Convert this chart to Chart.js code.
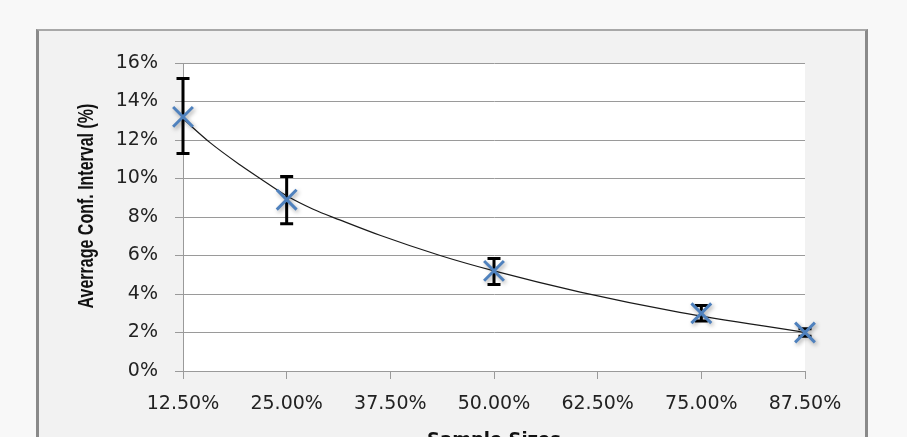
<!DOCTYPE html>
<html>
<head>
<meta charset="utf-8">
<script src="https://cdn.jsdelivr.net/npm/chart.js@4.4.1/dist/chart.umd.min.js"></script>
<style>
  html, body { margin: 0; padding: 0; width: 907px; height: 437px; overflow: hidden; background: #f8f8f8; }
  #frame {
    position: absolute; left: 36px; top: 29px; width: 826px; height: 440px;
    background: #f2f2f2;
    border-left: 3px solid #8a8a8a; border-right: 3px solid #8a8a8a; border-top: 2px solid #a8a8a8;
  }
  #c { position: absolute; left: 0; top: 0; }
</style>
</head>
<body>
<div id="frame"></div>
<canvas id="c" width="907" height="460"></canvas>
<script>
// Sample size (% of population) and average confidence-interval width (%)
const sampleSizes = [12.5, 25, 50, 75, 87.5];
const avgInterval = [13.2, 8.9, 5.2, 3.0, 2.0];
const ciLow  = [11.3, 7.65, 4.5, 2.6, 1.8];
const ciHigh = [15.2, 10.1, 5.85, 3.4, 2.2];

// Fitted trend curve through the averages
const trendX = [12.5, 15.8, 19.4, 21.8, 25, 28.2, 31.4, 36.25, 43.5, 50, 60.4, 72.4, 87.5];
const trendY = [13.1, 11.85, 10.7, 10.0, 9.1, 8.4, 7.85, 7.05, 6.0, 5.2, 4.1, 3.05, 2.0];

// Axis ticks
const xTicks = [12.5, 25, 37.5, 50, 62.5, 75, 87.5];
const yTicks = [0, 2, 4, 6, 8, 10, 12, 14, 16];

const yTitle = 'Averrage Conf. Interval (%)';

const GRID = '#9a9a9a';
const TICK_FONT = { family: "'DejaVu Sans', sans-serif", size: 19 };

// White plotting area behind the grid
const plotBackground = {
  id: 'plotBackground',
  beforeDraw(chart) {
    const { ctx, chartArea: a } = chart;
    ctx.save();
    ctx.fillStyle = '#ffffff';
    ctx.fillRect(a.left, a.top, a.right - a.left, a.bottom - a.top);
    ctx.restore();
  }
};

// Vertical error bars with caps, drawn beneath the markers
const errorBars = {
  id: 'errorBars',
  beforeDatasetsDraw(chart) {
    const { ctx, scales: { x, y } } = chart;
    ctx.save();
    ctx.strokeStyle = '#000000';
    ctx.lineWidth = 3;
    const cap = 6.5;
    sampleSizes.forEach((s, i) => {
      const px = x.getPixelForValue(s);
      const top = y.getPixelForValue(ciHigh[i]);
      const bot = y.getPixelForValue(ciLow[i]);
      ctx.beginPath();
      ctx.moveTo(px, top); ctx.lineTo(px, bot);
      ctx.moveTo(px - cap, top); ctx.lineTo(px + cap, top);
      ctx.moveTo(px - cap, bot); ctx.lineTo(px + cap, bot);
      ctx.stroke();
    });
    ctx.restore();
  }
};

// Soft drop shadow under the cross markers
const markerShadow = {
  id: 'markerShadow',
  beforeDatasetDraw(chart, args) {
    if (args.index !== 0) return;
    const ctx = chart.ctx;
    ctx.save();
    ctx.shadowColor = 'rgba(0,0,0,0.35)';
    ctx.shadowBlur = 4;
    ctx.shadowOffsetX = 1.5;
    ctx.shadowOffsetY = 2;
  },
  afterDatasetDraw(chart, args) {
    if (args.index !== 0) return;
    chart.ctx.restore();
  }
};

// Vertical axis title, widened slightly across the glyphs
const yAxisTitle = {
  id: 'yAxisTitle',
  afterDraw(chart) {
    const ctx = chart.ctx;
    const a = chart.chartArea;
    ctx.save();
    ctx.translate(93, (a.top + a.bottom) / 2 - 11);
    ctx.scale(1.4, 1);
    ctx.rotate(-Math.PI / 2);
    ctx.font = "bold 16px 'Liberation Sans', Arial, sans-serif";
    ctx.fillStyle = '#111111';
    ctx.textAlign = 'center';
    ctx.textBaseline = 'alphabetic';
    ctx.fillText(yTitle, 0, 0);
    ctx.restore();
  }
};

new Chart(document.getElementById('c'), {
  type: 'scatter',
  data: {
    datasets: [
      {
        label: 'Average',
        data: sampleSizes.map((s, i) => ({ x: s, y: avgInterval[i] })),
        showLine: false,
        clip: false,
        pointStyle: 'crossRot',
        pointRadius: 14,
        pointHoverRadius: 14,
        borderWidth: 3,
        borderColor: '#4f81bd',
        backgroundColor: '#4f81bd'
      },
      {
        label: 'Trend',
        data: trendX.map((t, i) => ({ x: t, y: trendY[i] })),
        showLine: true,
        pointRadius: 0,
        borderColor: '#1a1a1a',
        borderWidth: 1.2,
        cubicInterpolationMode: 'monotone'
      }
    ]
  },
  options: {
    responsive: false,
    animation: false,
    devicePixelRatio: 1,
    layout: { padding: { left: 69, right: 102, top: 63, bottom: 0 } },
    plugins: { legend: { display: false }, tooltip: { enabled: false } },
    scales: {
      x: {
        type: 'linear',
        min: 12.5, max: 87.5,
        afterBuildTicks(scale) { scale.ticks = xTicks.map(v => ({ value: v })); },
        afterFit(scale) { scale.height = 89; },
        grid: { drawOnChartArea: false, color: GRID, tickLength: 8, tickColor: GRID },
        border: { color: GRID },
        ticks: {
          color: '#222222', font: TICK_FONT, padding: 14, maxRotation: 0, autoSkip: false,
          callback: v => v.toFixed(2) + '%'
        },
        title: {
          display: true, text: 'Sample Sizes', color: '#111111',
          font: { family: "'DejaVu Sans', sans-serif", size: 18, weight: 'bold' },
          padding: { top: 0, bottom: 9 }
        }
      },
      y: {
        type: 'linear',
        min: 0, max: 16,
        afterBuildTicks(scale) { scale.ticks = yTicks.map(v => ({ value: v })); },
        afterFit(scale) { scale.width = 114; },
        grid: { color: GRID, tickLength: 8, tickColor: GRID },
        border: { color: GRID },
        ticks: {
          color: '#222222', font: TICK_FONT, padding: 17,
          callback: v => v + '%'
        },
        title: { display: false }
      }
    }
  },
  plugins: [plotBackground, errorBars, markerShadow, yAxisTitle]
});
</script>
</body>
</html>
